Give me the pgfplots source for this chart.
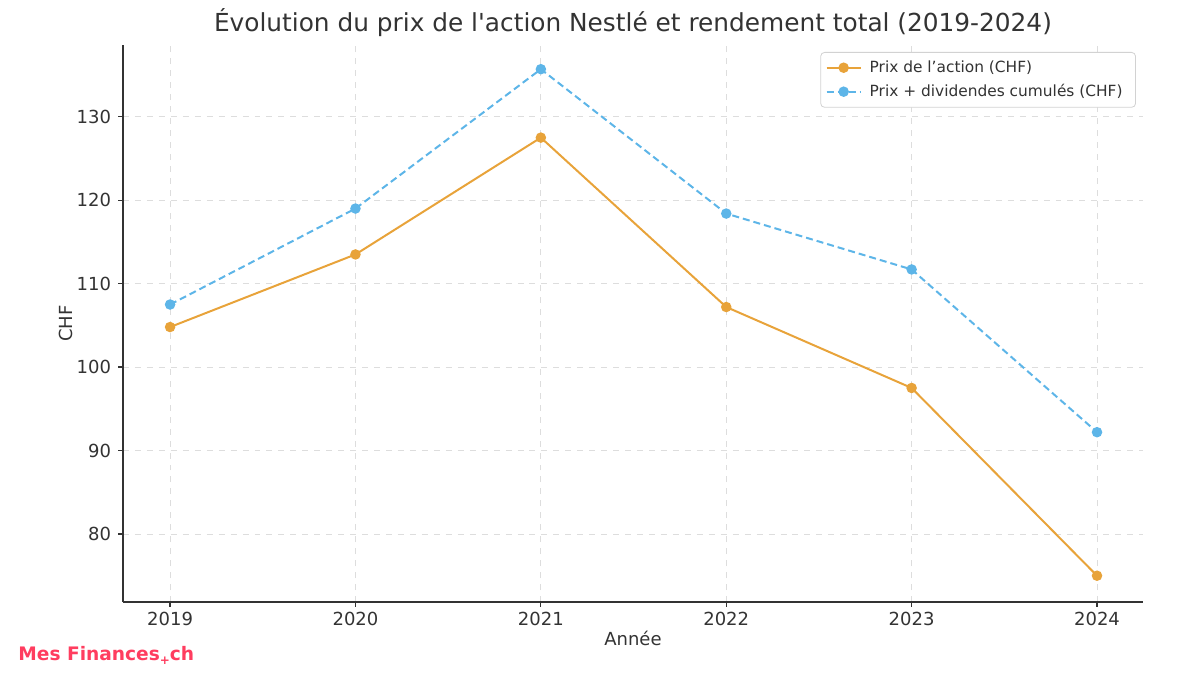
\documentclass[border=0pt]{standalone}
\usepackage{fontspec}
\setmainfont{DejaVu Sans}
\usepackage{pgfplots}
\pgfplotsset{compat=1.18}
\definecolor{prix}{HTML}{E8A33A}
\definecolor{total}{HTML}{5DB5E8}
\definecolor{axisgray}{HTML}{333333}
\definecolor{gridgray}{HTML}{DDDDDD}
\definecolor{brand}{HTML}{FF3D5F}
\begin{document}
\begin{tikzpicture}
\useasboundingbox (0,0) rectangle (600bp,350bp);
\begin{axis}[
    at={(61.5bp,49bp)}, anchor=south west,
    scale only axis, width=510bp, height=278.5bp,
    xmin=2018.746, xmax=2024.248,
    ymin=71.85, ymax=138.6,
    xtick={2019,2020,2021,2022,2023,2024},
    ytick={80,90,100,110,120,130},
    /pgf/number format/1000 sep={},
    /pgf/number format/assume math mode=true,
    axis lines*=left,
    axis line style={axisgray, line width=0.6bp},
    tick align=outside,
    major tick length=2.5bp,
    tick style={axisgray, line width=0.6bp},
    ticklabel style={font=\fontsize{9bp}{11bp}\selectfont, text=axisgray},
    xticklabel style={yshift=1bp},
    grid=major,
    grid style={gridgray, dashed, line width=0.4bp},
    title={Évolution du prix de l\textquotesingle action Nestlé et rendement total (2019-2024)},
    title style={at={(0.5,1)}, anchor=base, yshift=1bp, font=\fontsize{12.4bp}{15bp}\selectfont, text=axisgray},
    xlabel={Année},
    xlabel style={at={(0.5,0)}, anchor=base, yshift=-21.5bp, font=\fontsize{9bp}{11bp}\selectfont, text=axisgray},
    ylabel={CHF},
    ylabel style={at={(0,0.5)}, anchor=center, yshift=28.5bp, font=\fontsize{9bp}{11bp}\selectfont, text=axisgray},
    legend style={at={(1,1)}, anchor=north east, xshift=-3.5bp, yshift=-3.5bp,
        draw=gray!35, rounded corners=2bp, font=\fontsize{7.7bp}{9bp}\selectfont,
        text=axisgray, inner xsep=2.5bp, inner ysep=2bp, row sep=0.5bp,
        nodes={inner xsep=4bp}},
    legend cell align=left,
]
\addplot[prix, line width=1bp, mark=*, mark size=2.1bp, mark options={solid}]
    coordinates {(2019,104.8) (2020,113.5) (2021,127.5) (2022,107.2) (2023,97.5) (2024,75.0)};
\addlegendentry{Prix de l’action (CHF)}
\addplot[total, line width=1bp, dash pattern=on 3.5bp off 2bp, mark=*, mark size=2.1bp, mark options={solid}]
    coordinates {(2019,107.5) (2020,119.0) (2021,135.7) (2022,118.4) (2023,111.7) (2024,92.2)};
\addlegendentry{Prix + dividendes cumulés (CHF)}
\end{axis}
\node[text=brand, font=\bfseries\fontsize{9.3bp}{11bp}\selectfont, anchor=base west, inner sep=0pt] at (9bp,20bp) {Mes Finances\raisebox{-0.45ex}{\fontsize{6bp}{7bp}\selectfont +}ch};
\end{tikzpicture}
\end{document}
